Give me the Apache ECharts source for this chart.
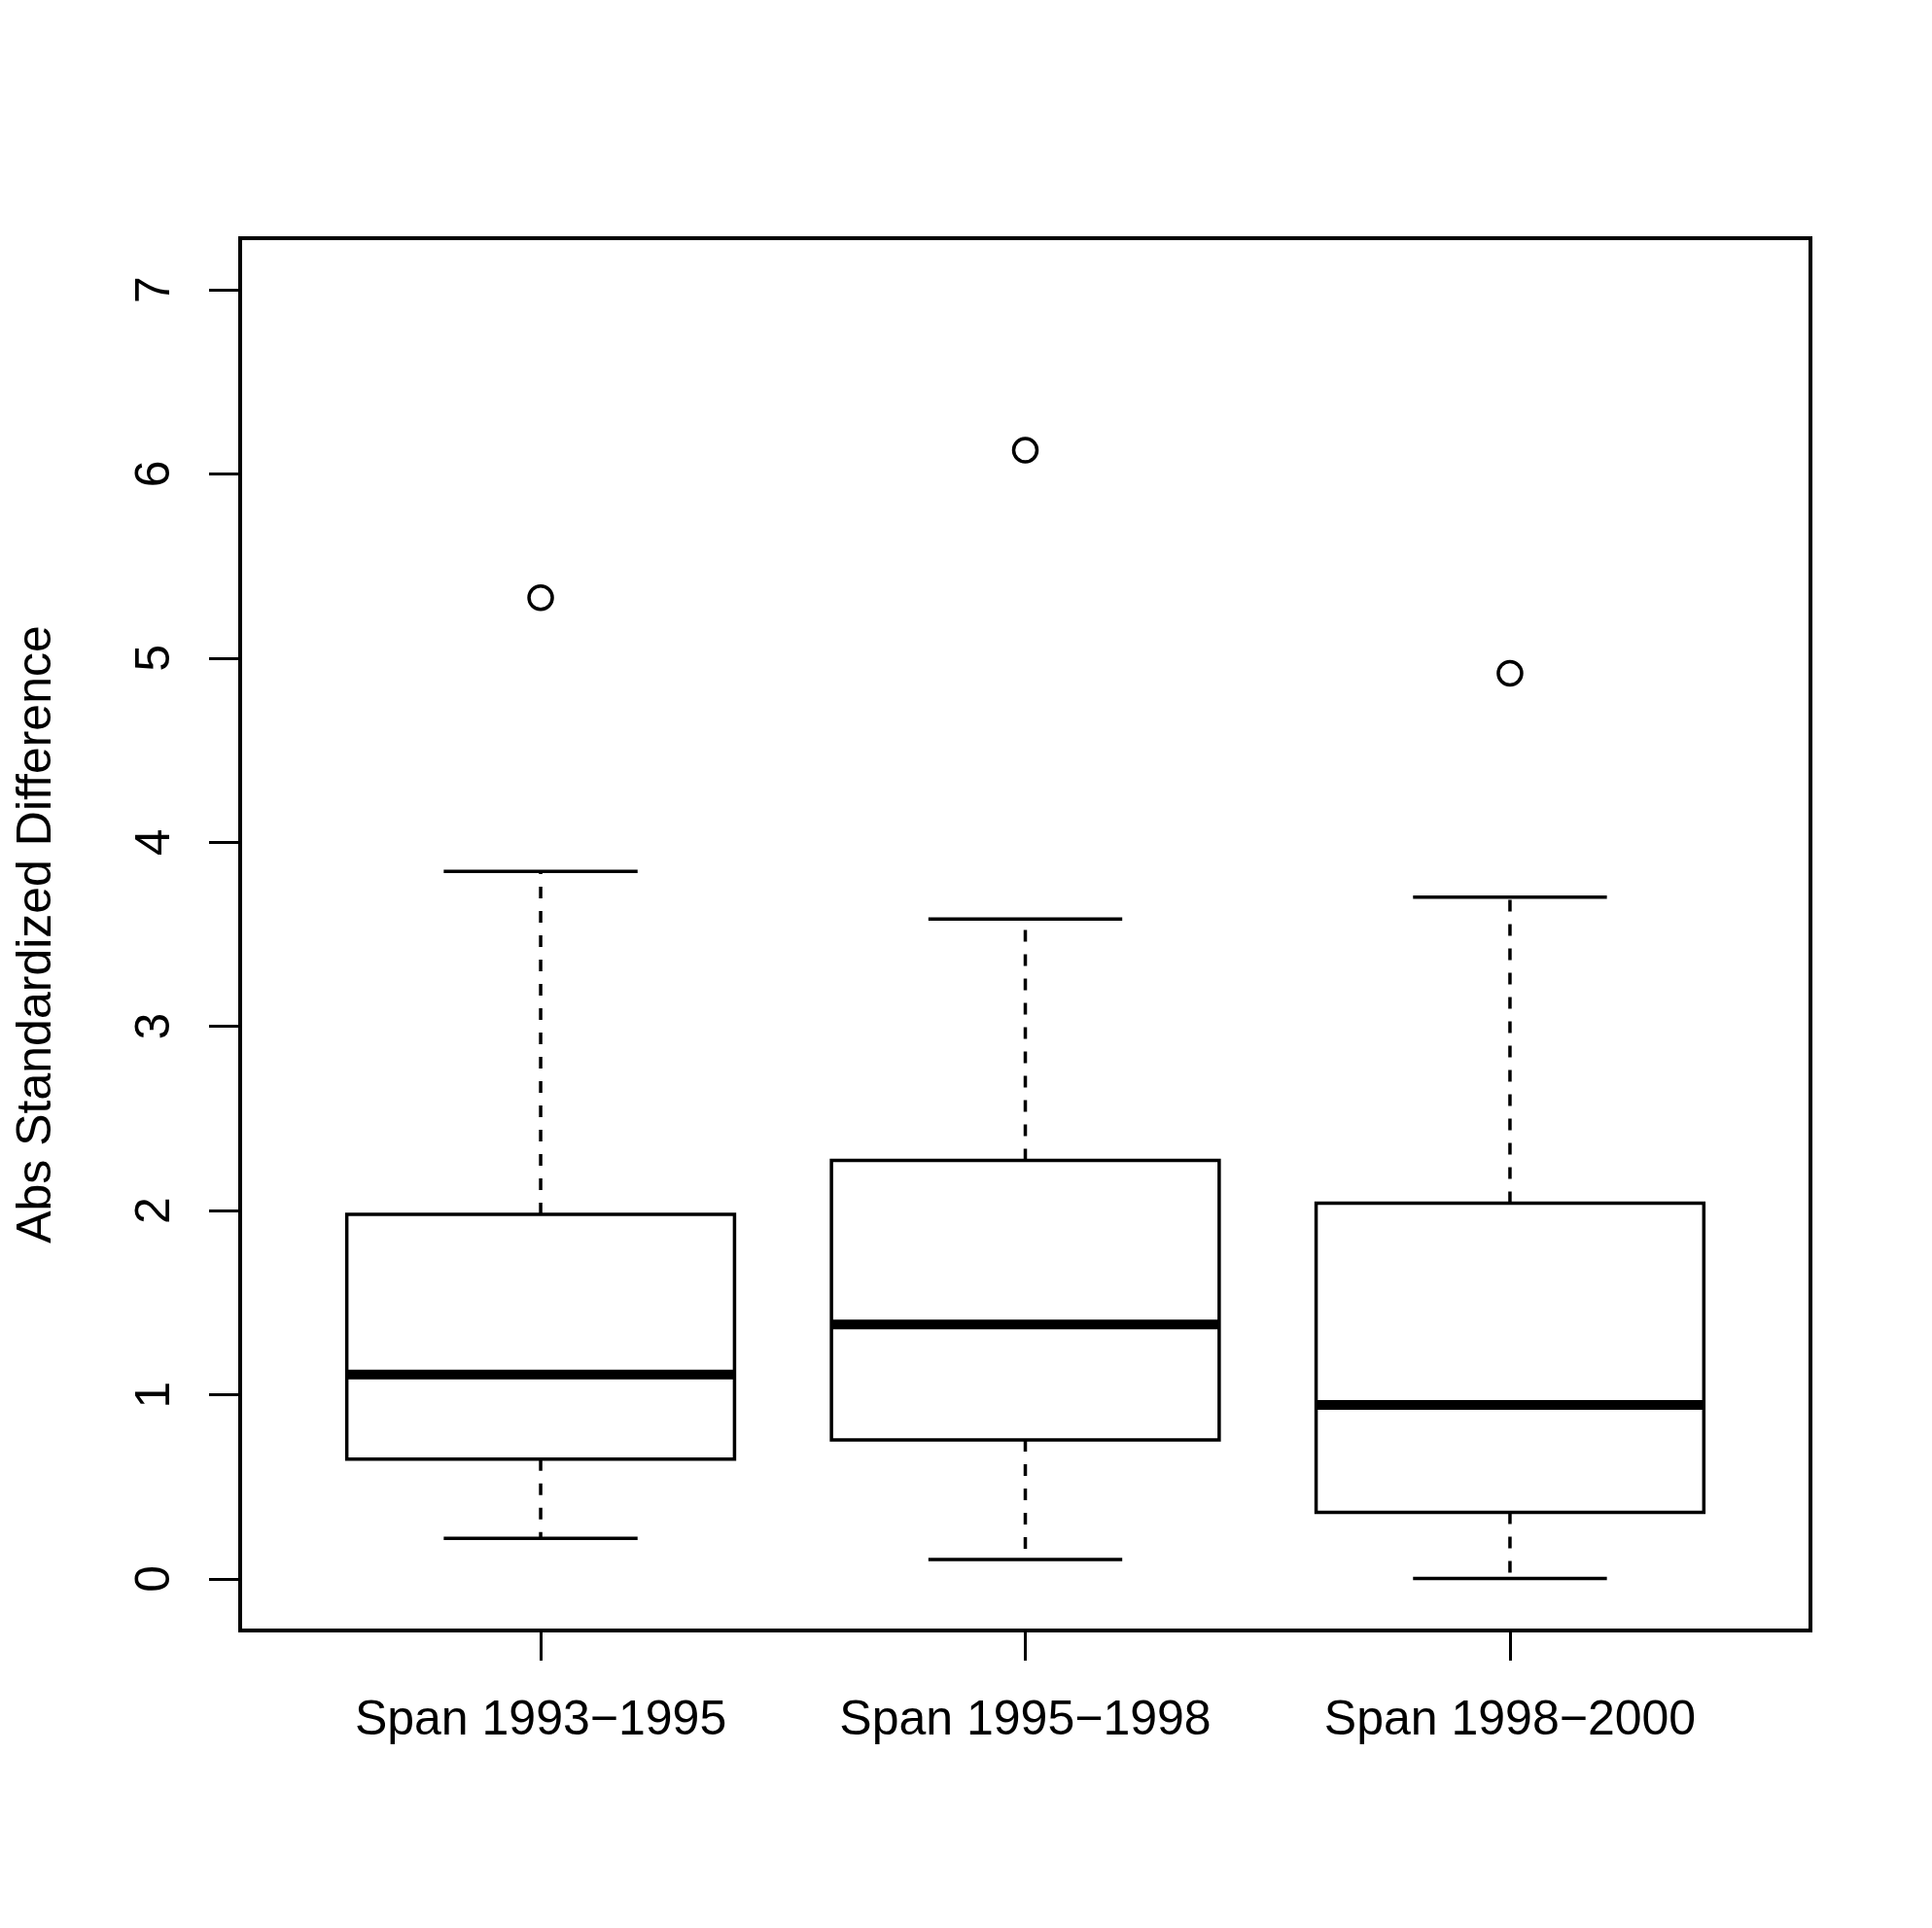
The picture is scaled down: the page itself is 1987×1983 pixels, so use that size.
<!DOCTYPE html>
<html>
<head>
<meta charset="utf-8">
<script src="https://cdn.jsdelivr.net/npm/echarts@6/dist/echarts.min.js"></script>
<style>
  html, body { margin: 0; padding: 0; background: #fff; }
  #chart { width: 1987px; height: 1983px; }
</style>
</head>
<body>
<div id="chart"></div>
<script>
const categories = ["Span 1993\u22121995", "Span 1995\u22121998", "Span 1998\u22122000"];
const lowerWhisker = [0.22, 0.105, 0.003];
const q1 = [0.65, 0.755, 0.362];
const median = [1.11, 1.382, 0.945];
const q3 = [1.98, 2.272, 2.04];
const upperWhisker = [3.842, 3.583, 3.702];
const outliers = [5.328, 6.129, 4.918];
const yTicks = [0, 1, 2, 3, 4, 5, 6, 7];

const FONT = '"Liberation Sans", Arial, Helvetica, sans-serif';

// box rows: [position, lo, q1, median, q3, hi]
const boxData = categories.map((c, i) => [i + 1, lowerWhisker[i], q1[i], median[i], q3[i], upperWhisker[i]]);
const outlierData = outliers.map((v, i) => [i + 1, v]);

const renderBox = (params, api) => {
  const x = api.value(0);
  const boxW = api.size([0.8, 0])[0];
  const capW = api.size([0.4, 0])[0];
  const pLo = api.coord([x, api.value(1)]);
  const pQ1 = api.coord([x, api.value(2)]);
  const pMed = api.coord([x, api.value(3)]);
  const pQ3 = api.coord([x, api.value(4)]);
  const pHi = api.coord([x, api.value(5)]);
  const cx = pMed[0];
  const solid = { stroke: "#000", lineWidth: 3.5, fill: null };
  const dashed = { stroke: "#000", lineWidth: 3.5, lineDash: [12, 13], fill: null };
  return {
    type: "group",
    children: [
      { type: "line", shape: { x1: cx, y1: pQ3[1], x2: cx, y2: pHi[1] }, style: dashed },
      { type: "line", shape: { x1: cx, y1: pQ1[1], x2: cx, y2: pLo[1] }, style: dashed },
      { type: "line", shape: { x1: cx - capW / 2, y1: pHi[1], x2: cx + capW / 2, y2: pHi[1] }, style: solid },
      { type: "line", shape: { x1: cx - capW / 2, y1: pLo[1], x2: cx + capW / 2, y2: pLo[1] }, style: solid },
      {
        type: "rect",
        shape: { x: cx - boxW / 2, y: pQ3[1], width: boxW, height: pQ1[1] - pQ3[1] },
        style: { stroke: "#000", lineWidth: 3.5, fill: "#fff" },
      },
      { type: "line", shape: { x1: cx - boxW / 2, y1: pMed[1], x2: cx + boxW / 2, y2: pMed[1] }, style: { stroke: "#000", lineWidth: 10 } },
    ],
  };
};

const chart = echarts.init(document.getElementById("chart"));

chart.setOption({
  animation: false,
  backgroundColor: "#fff",
  grid: {
    left: 247,
    right: 125,
    top: 245,
    bottom: 306,
    show: true,
    borderColor: "#000",
    borderWidth: 4,
    backgroundColor: "transparent",
  },
  xAxis: {
    type: "value",
    min: 0.38,
    max: 3.62,
    splitLine: { show: false },
    axisLine: { show: false, onZero: false },
    axisTick: {
      show: true,
      customValues: [1, 2, 3],
      length: 31,
      lineStyle: { color: "#000", width: 3 },
    },
    axisLabel: {
      customValues: [1, 2, 3],
      formatter: (v) => categories[Math.round(v) - 1] || "",
      margin: 93,
      verticalAlign: "middle",
      color: "#000",
      fontSize: 50,
      fontFamily: FONT,
    },
  },
  yAxis: {
    type: "value",
    min: -0.28,
    max: 7.28,
    name: "Abs Standardized Difference",
    nameLocation: "middle",
    nameRotate: 90,
    nameGap: 209,
    nameTextStyle: {
      color: "#000",
      fontSize: 50,
      fontFamily: FONT,
      align: "center",
      verticalAlign: "middle",
    },
    splitLine: { show: false },
    axisLine: { show: false, onZero: false },
    axisTick: {
      show: true,
      customValues: yTicks,
      length: 32,
      lineStyle: { color: "#000", width: 3 },
    },
    axisLabel: {
      customValues: yTicks,
      rotate: 90,
      margin: 87,
      align: "center",
      verticalAlign: "middle",
      color: "#000",
      fontSize: 50,
      fontFamily: FONT,
    },
  },
  series: [
    {
      type: "custom",
      name: "box",
      renderItem: renderBox,
      encode: { x: 0, y: [1, 2, 3, 4, 5] },
      data: boxData,
      clip: false,
    },
    {
      type: "scatter",
      name: "outliers",
      data: outlierData,
      symbol: "circle",
      symbolSize: 24,
      itemStyle: { color: "#fff", borderColor: "#000", borderWidth: 3.5, opacity: 1 },
    },
  ],
});
</script>
</body>
</html>
